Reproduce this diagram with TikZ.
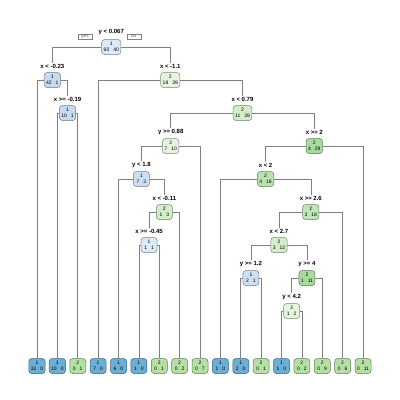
\documentclass[tikz,border=0pt]{standalone}
\usepackage{fontspec}
\setmainfont{Liberation Sans}
\definecolor{linec}{RGB}{128,128,128}
\definecolor{bleaf}{RGB}{107,174,214}
\definecolor{bA}{RGB}{220,233,246}
\definecolor{bB}{RGB}{198,219,239}
\definecolor{bC}{RGB}{204,223,241}
\definecolor{gleaf}{RGB}{181,224,164}
\definecolor{gA}{RGB}{228,244,222}
\definecolor{gB}{RGB}{211,237,203}
\definecolor{gC}{RGB}{192,229,184}
\definecolor{gD}{RGB}{184,227,176}
\definecolor{gE}{RGB}{166,219,157}
\tikzset{
  nbox/.style={draw=#1!55!black, fill=#1, rounded corners=3pt, line width=0.5pt,
    inner xsep=2pt, inner ysep=2pt, minimum width=16pt, minimum height=15pt,
    align=center, font=\fontsize{5}{6}\selectfont},
  splitlab/.style={font=\fontsize{6}{7}\selectfont\bfseries, inner sep=1.2pt},
  br/.style={draw=linec, line width=0.55pt},
  yn/.style={draw=linec, line width=0.4pt, fill=white, font=\fontsize{4.5}{4.5}\selectfont,
    text=black!70, inner xsep=1pt, inner ysep=0.3pt, minimum width=14pt, minimum height=5pt},
}
\newcommand\cnt[2]{#1\hspace{4pt}#2}
\begin{document}
\begin{tikzpicture}[x=1pt,y=-1pt]
\useasboundingbox (0,0) rectangle (400,400);
% root
\node[nbox=bA] (r) at (111.3,47) {1\\\cnt{60}{40}};
\node[splitlab] (rl) at (111.3,32) {y < 0.067};
\node[yn] (yes) at (85,36.7) {yes};
\node[yn] (no) at (133.7,36.7) {no};
% internal nodes
\node[nbox=bB] (b) at (52.28,80) {1\\\cnt{42}{1}};
\node[splitlab] (bl) at (52.28,66.5) {x < -0.23};
\node[nbox=gA] (o) at (170.31,80) {2\\\cnt{18}{39}};
\node[splitlab] (ol) at (170.31,66.5) {x < -1.1};
\node[nbox=bB] (a) at (67.56,113) {1\\\cnt{10}{1}};
\node[splitlab] (al) at (67.56,99.5) {x >= -0.19};
\node[nbox=gB] (n) at (242.5,113) {2\\\cnt{11}{39}};
\node[splitlab] (nl) at (242.5,99.5) {x < 0.79};
\node[nbox=gA] (f) at (170.71,146) {2\\\cnt{7}{10}};
\node[splitlab] (fl) at (170.71,132.5) {y >= 0.88};
\node[nbox=gE] (m) at (314.29,146) {2\\\cnt{4}{29}};
\node[splitlab] (ml) at (314.29,132.5) {x >= 2};
\node[nbox=bC] (e) at (141.42,179) {1\\\cnt{7}{3}};
\node[splitlab] (el) at (141.42,165.5) {y < 1.8};
\node[nbox=gD] (l) at (265.58,179) {2\\\cnt{4}{18}};
\node[splitlab] (ll) at (265.58,165.5) {x < 2};
\node[nbox=gB] (d) at (164.34,212) {2\\\cnt{1}{3}};
\node[splitlab] (dl) at (164.34,198.5) {x < -0.11};
\node[nbox=gC] (k) at (310.79,212) {2\\\cnt{3}{18}};
\node[splitlab] (kl) at (310.79,198.5) {x >= 2.6};
\node[nbox=bA] (c) at (149.06,245) {1\\\cnt{1}{1}};
\node[splitlab] (cl) at (149.06,231.5) {x >= -0.45};
\node[nbox=gB] (j) at (278.95,245) {2\\\cnt{3}{12}};
\node[splitlab] (jl) at (278.95,231.5) {x < 2.7};
\node[nbox=bC] (g) at (250.94,278) {1\\\cnt{2}{1}};
\node[splitlab] (gl) at (250.94,264.5) {y >= 1.2};
\node[nbox=gE] (i) at (306.97,278) {2\\\cnt{1}{11}};
\node[splitlab] (il) at (306.97,264.5) {y >= 4};
\node[nbox=gA] (h) at (291.69,311) {2\\\cnt{1}{2}};
\node[splitlab] (hl) at (291.69,297.5) {y < 4.2};
% leaves
\node[nbox=bleaf] (L1) at (37,366) {1\\\cnt{32}{0}};
\node[nbox=bleaf] (L2) at (57.375,366) {1\\\cnt{10}{0}};
\node[nbox=gleaf] (L3) at (77.75,366) {2\\\cnt{0}{1}};
\node[nbox=bleaf] (L4) at (98.125,366) {1\\\cnt{7}{0}};
\node[nbox=bleaf] (L5) at (118.5,366) {1\\\cnt{6}{0}};
\node[nbox=bleaf] (L6) at (138.875,366) {1\\\cnt{1}{0}};
\node[nbox=gleaf] (L7) at (159.25,366) {2\\\cnt{0}{1}};
\node[nbox=gleaf] (L8) at (179.625,366) {2\\\cnt{0}{2}};
\node[nbox=gleaf] (L9) at (200,366) {2\\\cnt{0}{7}};
\node[nbox=bleaf] (L10) at (220.375,366) {1\\\cnt{1}{0}};
\node[nbox=bleaf] (L11) at (240.75,366) {1\\\cnt{2}{0}};
\node[nbox=gleaf] (L12) at (261.125,366) {2\\\cnt{0}{1}};
\node[nbox=bleaf] (L13) at (281.5,366) {1\\\cnt{1}{0}};
\node[nbox=gleaf] (L14) at (301.875,366) {2\\\cnt{0}{2}};
\node[nbox=gleaf] (L15) at (322.25,366) {2\\\cnt{0}{9}};
\node[nbox=gleaf] (L16) at (342.625,366) {2\\\cnt{0}{6}};
\node[nbox=gleaf] (L17) at (363,366) {2\\\cnt{0}{11}};
% branches
\draw[br] (r.west) -| (bl.north);
\draw[br] (r.east) -| (ol.north);
\draw[br] (b.west) -| (L1.north);
\draw[br] (b.east) -| (al.north);
\draw[br] (a.west) -| (L2.north);
\draw[br] (a.east) -| (L3.north);
\draw[br] (o.west) -| (L4.north);
\draw[br] (o.east) -| (nl.north);
\draw[br] (n.west) -| (fl.north);
\draw[br] (n.east) -| (ml.north);
\draw[br] (f.west) -| (el.north);
\draw[br] (f.east) -| (L9.north);
\draw[br] (e.west) -| (L5.north);
\draw[br] (e.east) -| (dl.north);
\draw[br] (d.west) -| (cl.north);
\draw[br] (d.east) -| (L8.north);
\draw[br] (c.west) -| (L6.north);
\draw[br] (c.east) -| (L7.north);
\draw[br] (m.west) -| (ll.north);
\draw[br] (m.east) -| (L17.north);
\draw[br] (l.west) -| (L10.north);
\draw[br] (l.east) -| (kl.north);
\draw[br] (k.west) -| (jl.north);
\draw[br] (k.east) -| (L16.north);
\draw[br] (j.west) -| (gl.north);
\draw[br] (j.east) -| (il.north);
\draw[br] (g.west) -| (L11.north);
\draw[br] (g.east) -| (L12.north);
\draw[br] (i.west) -| (hl.north);
\draw[br] (i.east) -| (L15.north);
\draw[br] (h.west) -| (L13.north);
\draw[br] (h.east) -| (L14.north);
\end{tikzpicture}
\end{document}
